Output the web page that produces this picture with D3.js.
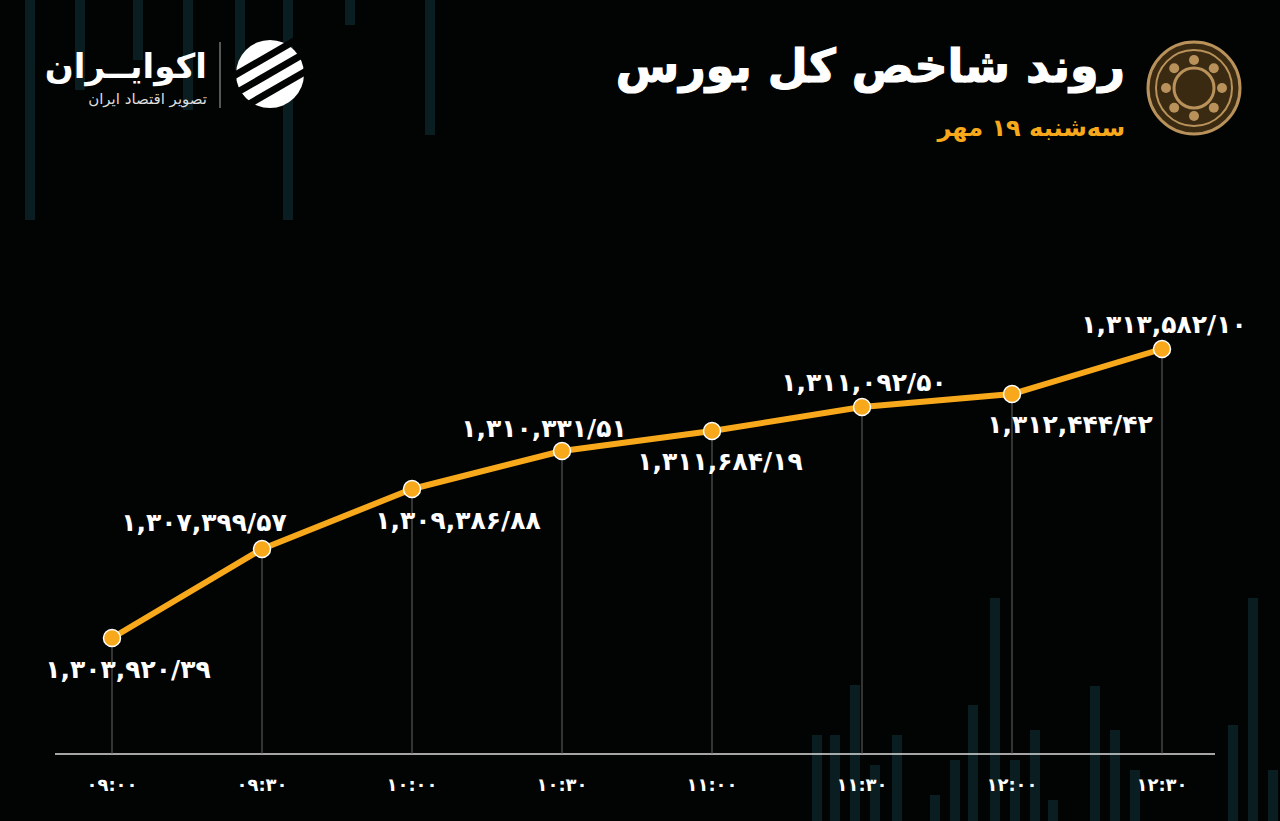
<!DOCTYPE html>
<html><head><meta charset="utf-8">
<script src="https://cdn.jsdelivr.net/npm/d3@7"></script>
<style>body{margin:0;background:#000;}svg{display:block;}</style>
</head><body><div id="chart"></div>
<script>
const times = ["۰۹:۰۰","۰۹:۳۰","۱۰:۰۰","۱۰:۳۰","۱۱:۰۰","۱۱:۳۰","۱۲:۰۰","۱۲:۳۰"];
// values as plotted in the picture (point heights)
const values = [1303920, 1306896, 1308901, 1310172, 1310841, 1311643, 1312077, 1313582];
// printed labels
const labels = ["۱,۳۰۳,۹۲۰/۳۹","۱,۳۰۷,۳۹۹/۵۷","۱,۳۰۹,۳۸۶/۸۸","۱,۳۱۰,۳۳۱/۵۱","۱,۳۱۱,۶۸۴/۱۹","۱,۳۱۱,۰۹۲/۵۰","۱,۳۱۲,۴۴۴/۴۲","۱,۳۱۳,۵۸۲/۱۰"];
// label placement: [dx, dy]
const place = [[16,40],[-58,-18],[46,40],[-18,-14],[8,39],[2,-16],[58,39],[2,-16]];
const bgBars = [[25,0,220],[75,0,90],[133,0,60],[183,0,110],[235,0,70],[283,0,220],[345,0,25],[425,0,135],
  [812,735,821],[830,735,821],[850,685,821],[870,765,821],[892,735,821],[930,795,821],[950,760,821],[968,705,821],
  [990,598,821],[1010,760,821],[1030,730,821],[1048,800,821],[1090,686,821],[1110,730,821],[1130,770,821],[1228,725,821],[1248,598,821],[1268,770,821]];

const W = 1280, H = 821, orange = "#f7a81b", font = "DejaVu Sans";
const svg = d3.select("#chart").append("svg").attr("width", W).attr("height", H);
svg.append("rect").attr("width", W).attr("height", H).attr("fill", "#020303");

svg.selectAll(".bg").data(bgBars).join("rect")
  .attr("x", d => d[0]).attr("y", d => d[1]).attr("width", 10).attr("height", d => d[2] - d[1])
  .attr("fill", "#0d2428").attr("opacity", 0.8);

const x = d3.scalePoint().domain(times).range([112, 1162]);
const y = d3.scaleLinear().domain([1303920, 1313582]).range([638, 349]);
const axisY = 754;

svg.append("line").attr("x1", 55).attr("x2", 1215).attr("y1", axisY).attr("y2", axisY)
  .attr("stroke", "#ddd").attr("stroke-width", 1.5);

svg.selectAll(".drop").data(times).join("line")
  .attr("x1", d => x(d)).attr("x2", d => x(d))
  .attr("y1", (d, i) => y(values[i])).attr("y2", axisY)
  .attr("stroke", "#666").attr("stroke-width", 1);

svg.selectAll(".tick").data(times).join("text")
  .attr("x", d => x(d)).attr("y", 791).attr("text-anchor", "middle")
  .attr("fill", "#fff").attr("font-family", font).attr("font-weight", "bold").attr("font-size", 18)
  .attr("direction", "ltr").text(d => d);

const line = d3.line().x((d, i) => x(times[i])).y(d => y(d));
svg.append("path").datum(values).attr("d", line).attr("fill", "none")
  .attr("stroke", orange).attr("stroke-width", 6).attr("stroke-linejoin", "round");

svg.selectAll(".pt").data(values).join("circle")
  .attr("cx", (d, i) => x(times[i])).attr("cy", d => y(d)).attr("r", 8.5)
  .attr("fill", orange).attr("stroke", "#fff").attr("stroke-width", 1.5);

svg.selectAll(".lbl").data(labels).join("text")
  .attr("x", (d, i) => x(times[i]) + place[i][0]).attr("y", (d, i) => y(values[i]) + place[i][1])
  .attr("text-anchor", "middle").attr("direction", "ltr")
  .attr("fill", "#fff").attr("font-family", font).attr("font-weight", "bold").attr("font-size", 25)
  .text(d => d);

// title
svg.append("text").attr("x", 1125).attr("y", 82).attr("text-anchor", "end")
  .attr("fill", "#fff").attr("font-family", font).attr("font-weight", "bold").attr("font-size", 46)
  .attr("stroke", "#fff").attr("stroke-width", 1.2)
  .text("روند شاخص کل بورس");
svg.append("text").attr("x", 1125).attr("y", 136).attr("text-anchor", "end")
  .attr("fill", orange).attr("font-family", font).attr("font-weight", "bold").attr("font-size", 24)
  .text("سه‌شنبه ۱۹ مهر");

// emblem
const em = svg.append("g").attr("transform", "translate(1194,88)");
em.append("circle").attr("r", 46).attr("fill", "#3a2a12").attr("stroke", "#b8925a").attr("stroke-width", 3);
em.append("circle").attr("r", 38).attr("fill", "none").attr("stroke", "#b8925a").attr("stroke-width", 2);
em.append("circle").attr("r", 20).attr("fill", "none").attr("stroke", "#b8925a").attr("stroke-width", 3);
for (let k = 0; k < 8; k++) {
  const a = k * Math.PI / 4;
  em.append("circle").attr("cx", 28 * Math.cos(a)).attr("cy", 28 * Math.sin(a)).attr("r", 5).attr("fill", "#b8925a");
}

// logo
svg.append("text").attr("x", 207).attr("y", 78).attr("text-anchor", "end")
  .attr("fill", "#fff").attr("font-family", font).attr("font-weight", "bold").attr("font-size", 34)
  .text("اکوایــران");
svg.append("text").attr("x", 207).attr("y", 104).attr("text-anchor", "end")
  .attr("fill", "#ddd").attr("font-family", font).attr("font-size", 15)
  .text("تصویر اقتصاد ایران");
svg.append("line").attr("x1", 220).attr("x2", 220).attr("y1", 42).attr("y2", 108).attr("stroke", "#aaa");
const lg = svg.append("g").attr("transform", "translate(270,74)");
lg.append("circle").attr("r", 34).attr("fill", "#fff");
[-16, 0, 16].forEach(o => lg.append("rect").attr("x", -40).attr("y", o - 4).attr("width", 80).attr("height", 7)
  .attr("fill", "#020303").attr("transform", "rotate(-30)"));
</script></body></html>
